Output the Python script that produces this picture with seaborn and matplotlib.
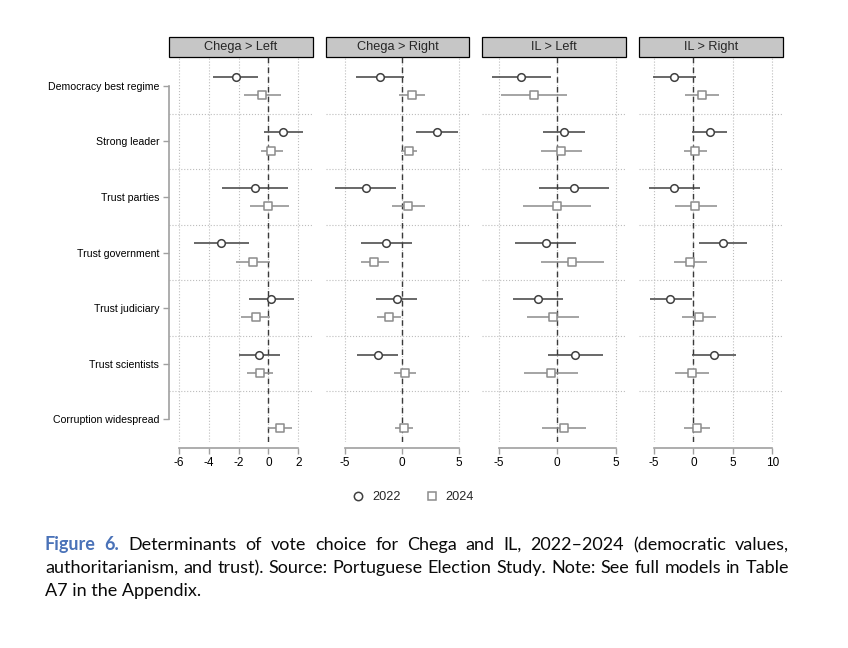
import numpy as np
import pandas as pd
import seaborn as sns
import matplotlib.pyplot as plt
from matplotlib.patches import Rectangle
from matplotlib.lines import Line2D

items = ["Democracy best regime", "Strong leader", "Trust parties", "Trust government",
         "Trust judiciary", "Trust scientists", "Corruption widespread"]
panels = ["Chega > Left", "Chega > Right", "IL > Left", "IL > Right"]
years = ["2022", "2024"]
nan = np.nan

# Chega > Left
cl_22 = [-2.2, 1.0, -0.9, -3.2, 0.2, -0.6, nan]
cl_22_lo = [-3.7, -0.3, -3.1, -5.0, -1.3, -2.0, nan]
cl_22_hi = [-0.7, 2.3, 1.3, -1.3, 1.7, 0.8, nan]
cl_24 = [-0.4, 0.2, 0.0, -1.0, -0.85, -0.55, 0.75]
cl_24_lo = [-1.6, -0.5, -1.2, -2.2, -1.8, -1.45, 0.0]
cl_24_hi = [0.85, 0.95, 1.35, 0.1, 0.1, 0.3, 1.55]

# Chega > Right
cr_22 = [-1.9, 3.05, -3.15, -1.35, -0.45, -2.1, nan]
cr_22_lo = [-4.0, 1.25, -5.85, -3.6, -2.25, -3.95, nan]
cr_22_hi = [0.2, 4.95, -0.5, 0.9, 1.35, -0.3, nan]
cr_24 = [0.85, 0.65, 0.5, -2.4, -1.15, 0.3, 0.15]
cr_24_lo = [-0.25, -0.05, -0.9, -3.6, -2.15, -0.7, -0.6]
cr_24_hi = [2.0, 1.35, 2.0, -1.15, -0.1, 1.25, 0.95]

# IL > Left
il_22 = [-3.1, 0.55, 1.45, -0.95, -1.65, 1.55, nan]
il_22_lo = [-5.55, -1.2, -1.55, -3.6, -3.8, -0.75, nan]
il_22_hi = [-0.55, 2.35, 4.45, 1.65, 0.5, 3.9, nan]
il_24 = [-2.0, 0.35, -0.05, 1.3, -0.35, -0.5, 0.6]
il_24_lo = [-4.8, -1.35, -2.9, -1.35, -2.55, -2.8, -1.3]
il_24_hi = [0.8, 2.1, 2.9, 4.0, 1.85, 1.8, 2.45]

# IL > Right
ir_22 = [-2.4, 2.1, -2.4, 3.75, -2.9, 2.55, nan]
ir_22_lo = [-5.15, -0.2, -5.6, 0.7, -5.5, -0.15, nan]
ir_22_hi = [0.35, 4.3, 0.9, 6.8, -0.15, 5.35, nan]
ir_24 = [1.15, 0.25, 0.25, -0.4, 0.7, -0.2, 0.4]
ir_24_lo = [-1.05, -1.2, -2.3, -2.4, -1.45, -2.3, -1.2]
ir_24_hi = [3.3, 1.7, 2.95, 1.75, 2.85, 1.95, 2.1]

panel_data = {
    "Chega > Left": [(cl_22, cl_22_lo, cl_22_hi), (cl_24, cl_24_lo, cl_24_hi)],
    "Chega > Right": [(cr_22, cr_22_lo, cr_22_hi), (cr_24, cr_24_lo, cr_24_hi)],
    "IL > Left": [(il_22, il_22_lo, il_22_hi), (il_24, il_24_lo, il_24_hi)],
    "IL > Right": [(ir_22, ir_22_lo, ir_22_hi), (ir_24, ir_24_lo, ir_24_hi)],
}
panel_ticks = [[-6, -4, -2, 0, 2], [-5, 0, 5], [-5, 0, 5], [-5, 0, 5, 10]]
panel_xlim = [(-6.65, 2.95), (-6.67, 5.89), (-6.41, 5.87), (-6.87, 11.27)]
panel_left = [169, 325.7, 482.3, 639]

rows = []
for panel in panels:
    for year, (est, lo, hi) in zip(years, panel_data[panel]):
        for i, item in enumerate(items):
            rows.append(dict(panel=panel, year=year, item=item, pos=i,
                             coef=est[i], lo=lo[i], hi=hi[i]))
df = pd.DataFrame(rows).dropna()
df["ypos"] = df["pos"] + df["year"].map({"2022": -0.165, "2024": 0.165})

colors = {"2022": "#404040", "2024": "#8c8c8c"}
markers = {"2022": "o", "2024": "s"}

sns.set_theme(style="white")
plt.rcParams["font.family"] = ["Liberation Sans", "DejaVu Sans"]

W, H = 848, 648
fig = plt.figure(figsize=(W / 100, H / 100), dpi=100)
ax_top, ax_bot = 57, 442

for k, panel in enumerate(panels):
    ax = fig.add_axes([panel_left[k] / W, 1 - ax_bot / H, 143.5 / W, (ax_bot - ax_top) / H])
    sub = df[df.panel == panel]
    for year in years:
        s = sub[sub.year == year]
        ax.hlines(s["ypos"], s["lo"], s["hi"], color=colors[year], lw=1.1, zorder=3)
        sns.scatterplot(data=s, x="coef", y="ypos", marker=markers[year], s=30,
                        facecolor="white", edgecolor=colors[year], linewidth=1.1,
                        ax=ax, zorder=4, legend=False)
    ax.axvline(0, color="#3a3a3a", lw=1.0, ls=(0, (4, 3)), zorder=2)

    ax.set_xlim(*panel_xlim[k])
    ax.set_ylim(6.41, -0.52)
    ax.set_xticks(panel_ticks[k])
    ax.set_xticklabels([str(t) for t in panel_ticks[k]])
    ax.set_yticks(range(len(items)))
    ax.set_yticks(np.arange(0.5, len(items) - 1, 1.0), minor=True)
    ax.grid(axis="x", which="major", ls=":", color="#bdbdbd", lw=0.8)
    ax.grid(axis="y", which="minor", ls=":", color="#bdbdbd", lw=0.8)
    ax.set_xlabel("")
    ax.set_ylabel("")

    for sp in ["top", "right"]:
        ax.spines[sp].set_visible(False)
    ax.spines["bottom"].set_position(("outward", 4))
    ax.spines["bottom"].set_bounds(panel_ticks[k][0], panel_ticks[k][-1])
    ax.spines["bottom"].set_color("#a0a0a0")
    ax.spines["bottom"].set_linewidth(1.2)
    ax.tick_params(axis="x", bottom=True, length=4, width=1, color="#a0a0a0",
                   labelsize=8.5, pad=3, labelcolor="black")

    if k == 0:
        ax.set_yticklabels(items)
        ax.spines["left"].set_bounds(0, len(items) - 1)
        ax.spines["left"].set_color("#a0a0a0")
        ax.spines["left"].set_linewidth(1.2)
        ax.tick_params(axis="y", which="major", left=True, length=4, width=1,
                       color="#a0a0a0", labelsize=7.6, pad=3, labelcolor="black")
        ax.tick_params(axis="y", which="minor", left=False)
    else:
        ax.spines["left"].set_visible(False)
        ax.tick_params(axis="y", which="both", left=False, labelleft=False)

    strip_h = 20 / (ax_bot - ax_top)
    ax.add_patch(Rectangle((0, 1.0), 1.0, strip_h, transform=ax.transAxes,
                           facecolor="#c6c6c6", edgecolor="black", lw=0.9, clip_on=False))
    ax.text(0.5, 1.0 + strip_h / 2, panel, transform=ax.transAxes,
            ha="center", va="center", fontsize=9.2)

handles = [Line2D([], [], ls="none", marker=markers[y], markersize=6,
                  markerfacecolor="white", markeredgecolor=colors[y], markeredgewidth=1.1)
           for y in years]
fig.legend(handles, years, loc="center", bbox_to_anchor=(413 / W, 1 - 497 / H),
           ncol=2, frameon=False, fontsize=9.2, handlelength=1.0, handletextpad=0.6,
           columnspacing=1.9)

# caption, justified over the first two lines
cap_font = ["Lato", "DejaVu Sans"]
cap_size = 13
blue = "#4a72b8"
line1 = [("Figure", dict(color=blue, fontweight="bold")), ("6.", dict(color=blue, fontweight="bold"))]
line1 += [(w, {}) for w in "Determinants of vote choice for Chega and IL, 2022–2024 (democratic values,".split()]
line2 = [(w, {}) for w in "authoritarianism, and trust). Source: Portuguese Election Study. Note: See full models in Table".split()]
line3 = "A7 in the Appendix."

renderer = fig.canvas.get_renderer()
x0, x1 = 45 / W, 789 / W


def justify(parts, ybase):
    texts = [fig.text(0, ybase, w, fontsize=cap_size, family=cap_font, va="baseline",
                      **{"color": "#0a0a0a", **kw}) for w, kw in parts]
    widths = [t.get_window_extent(renderer).width / W for t in texts]
    gap = (x1 - x0 - sum(widths)) / (len(texts) - 1)
    x = x0
    for t, w in zip(texts, widths):
        t.set_x(x)
        x += w + gap


justify(line1, 1 - 550 / H)
justify(line2, 1 - 573 / H)
fig.text(x0, 1 - 596 / H, line3, fontsize=cap_size, family=cap_font, va="baseline", color="#0a0a0a")

fig.savefig("out.png", dpi=100, facecolor="white")
